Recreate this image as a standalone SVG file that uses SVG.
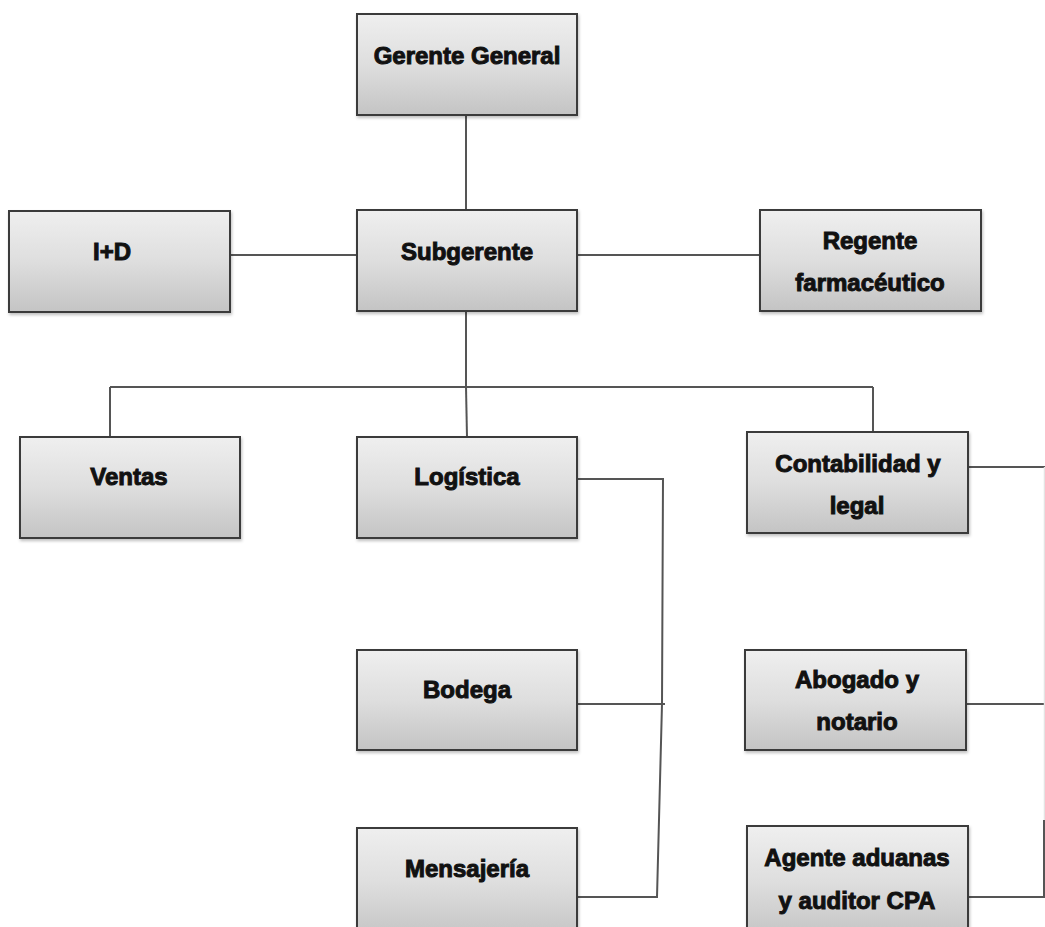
<svg xmlns="http://www.w3.org/2000/svg" width="1045" height="927" viewBox="0 0 1045 927">
<defs>
<linearGradient id="g" x1="0" y1="0" x2="0" y2="1">
<stop offset="0" stop-color="#efefef"/>
<stop offset="0.5" stop-color="#dedede"/>
<stop offset="1" stop-color="#c4c4c4"/>
</linearGradient>
<filter id="sh" x="-5%" y="-5%" width="115%" height="120%">
<feDropShadow dx="1" dy="2" stdDeviation="1.5" flood-color="#000" flood-opacity="0.25"/>
</filter>
</defs>
<style>
.box{fill:url(#g);stroke:#3a3a3a;stroke-width:2;filter:url(#sh)}
.t{font-family:"Liberation Sans",Arial,sans-serif;font-weight:bold;font-size:24px;fill:#111;stroke:#111;stroke-width:1;text-anchor:middle}
.c{fill:none;stroke:#555;stroke-width:2}
</style>
<rect width="1045" height="927" fill="#fff"/>
<g id="connectors">
<line class="c" x1="466" y1="115" x2="466" y2="210"/>
<line class="c" x1="230" y1="255" x2="357" y2="255"/>
<line class="c" x1="577" y1="255" x2="760" y2="255"/>
<line class="c" x1="466" y1="311" x2="466" y2="387"/>
<line class="c" x1="110" y1="387" x2="873" y2="387"/>
<line class="c" x1="110" y1="387" x2="110" y2="437"/>
<line class="c" x1="466" y1="387" x2="467" y2="437"/>
<line class="c" x1="873" y1="387" x2="873" y2="432"/>
<polyline class="c" points="577,479 663,479 662,704 657,897 577,897"/>
<line class="c" x1="577" y1="704" x2="665" y2="704"/>
<line class="c" x1="968" y1="467" x2="1045" y2="467"/>
<line class="c" x1="966" y1="704" x2="1045" y2="704"/>
<line x1="1044.5" y1="467" x2="1044.5" y2="820" stroke="#e4e4e4" stroke-width="1.5"/>
<polyline class="c" points="968,897 1044,897 1044,820"/>
</g>
<g id="gerente"><rect class="box" x="357" y="14" width="220" height="101"/><text class="t" x="467" y="64">Gerente General</text></g>
<g id="subgerente"><rect class="box" x="357" y="210" width="220" height="101"/><text class="t" x="467" y="260">Subgerente</text></g>
<g id="id"><rect class="box" x="9" y="211" width="221" height="101"/><text class="t" x="112" y="260">I+D</text></g>
<g id="regente"><rect class="box" x="760" y="210" width="221" height="101"/><text class="t" x="870" y="249">Regente</text><text class="t" x="870" y="291">farmacéutico</text></g>
<g id="ventas"><rect class="box" x="20" y="437" width="220" height="101"/><text class="t" x="129" y="485">Ventas</text></g>
<g id="logistica"><rect class="box" x="357" y="437" width="220" height="101"/><text class="t" x="467" y="485">Logística</text></g>
<g id="contabilidad"><rect class="box" x="747" y="432" width="221" height="101"/><text class="t" x="858" y="472">Contabilidad y</text><text class="t" x="857" y="514">legal</text></g>
<g id="bodega"><rect class="box" x="357" y="650" width="220" height="100"/><text class="t" x="467" y="698">Bodega</text></g>
<g id="abogado"><rect class="box" x="745" y="650" width="221" height="100"/><text class="t" x="857" y="688">Abogado y</text><text class="t" x="857" y="730">notario</text></g>
<g id="mensajeria"><rect class="box" x="357" y="828" width="220" height="110"/><text class="t" x="467" y="877">Mensajería</text></g>
<g id="agente"><rect class="box" x="747" y="826" width="221" height="112"/><text class="t" x="857" y="866">Agente aduanas</text><text class="t" x="857" y="909">y auditor CPA</text></g>
</svg>
